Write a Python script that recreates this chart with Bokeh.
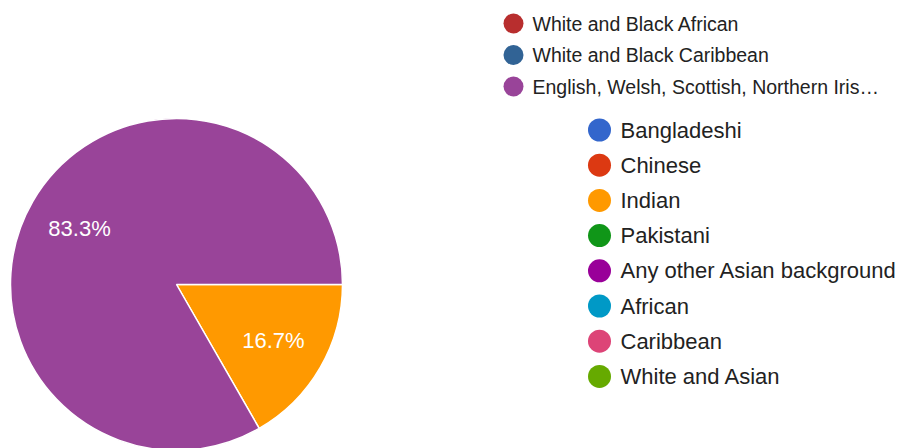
import math
from bokeh.plotting import figure
from bokeh.models import ColumnDataSource, Range1d
from bokeh.core.properties import value
from bokeh.embed import file_html
from bokeh.resources import INLINE

# ---- data ----
slice_names = ["Indian", "English, Welsh, Scottish, Northern Iris\u2026"]
slice_values = [16.7, 83.3]
slice_colors = ["#ff9900", "#994499"]

legend1_labels = ["White and Black African", "White and Black Caribbean",
                  "English, Welsh, Scottish, Northern Iris\u2026"]
legend1_colors = ["#b82e2e", "#316395", "#994499"]

legend2_labels = ["Bangladeshi", "Chinese", "Indian", "Pakistani",
                  "Any other Asian background", "African", "Caribbean", "White and Asian"]
legend2_colors = ["#3366cc", "#dc3912", "#ff9900", "#109618",
                  "#990099", "#0099c6", "#dd4477", "#66aa00"]

W, H = 901, 448
p = figure(width=W, height=H, output_backend="svg", toolbar_location=None,
           x_range=Range1d(0, W), y_range=Range1d(0, H), min_border=0)
p.axis.visible = False
p.grid.visible = False
p.outline_line_color = None
p.background_fill_color = "white"
p.border_fill_color = "white"

# pie
cx, cy, R = 176, H - 284, 166
total = sum(slice_values)
starts, ends, lx, ly, labels = [], [], [], [], []
a = 0.0
for v in slice_values:
    sweep = 2 * math.pi * v / total
    starts.append(a - sweep)
    ends.append(a)
    mid = a - sweep / 2
    lx.append(cx + 0.675 * R * math.cos(mid))
    ly.append(cy + 0.675 * R * math.sin(mid))
    labels.append(f"{v:.1f}%")
    a -= sweep

src = ColumnDataSource(dict(start=starts, end=ends, color=slice_colors,
                            x=[cx] * len(slice_values), y=[cy] * len(slice_values)))
p.wedge(x="x", y="y", radius=R, start_angle="start", end_angle="end",
        fill_color="color", line_color="white", line_width=1.5, source=src)
p.text(x=lx, y=ly, text=labels, text_color="white", text_align="center",
       text_baseline="middle", text_font=value("Liberation Sans"), text_font_size="22px")

# legend group 1
y1 = [H - (23 + 31.5 * i) for i in range(len(legend1_labels))]
p.scatter(x=[513] * len(y1), y=y1, size=20, marker="circle",
          fill_color=legend1_colors, line_color=None)
p.text(x=[532] * len(y1), y=y1, text=legend1_labels, text_color="#222222",
       text_baseline="middle", text_font=value("Liberation Sans"), text_font_size="19.5px")

# legend group 2
y2 = [H - (129.5 + 35.2 * i) for i in range(len(legend2_labels))]
p.scatter(x=[599] * len(y2), y=y2, size=23, marker="circle",
          fill_color=legend2_colors, line_color=None)
p.text(x=[620] * len(y2), y=y2, text=legend2_labels, text_color="#222222",
       text_baseline="middle", text_font=value("Liberation Sans"), text_font_size="22px")

open("out.html", "w").write(file_html(p, INLINE))
